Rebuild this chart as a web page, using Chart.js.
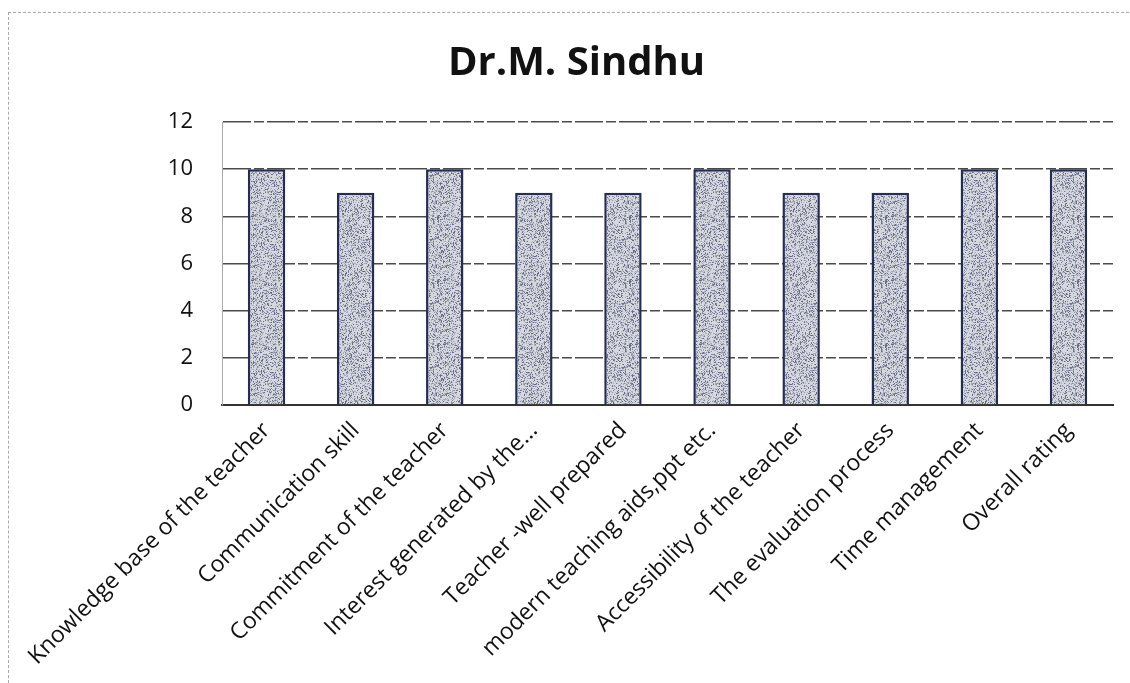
<!DOCTYPE html>
<html lang="en">
<head>
<meta charset="UTF-8">
<script src="https://cdn.jsdelivr.net/npm/chart.js"></script>
<title>Dr.M. Sindhu</title>
<style>
    * {
        margin: 0px;
        padding: 0px;
    }

    body {
        width: 1130px;
        height: 683px;
        background: #fff;
        overflow: hidden;
        position: relative;
    }

    .marco {
        position: absolute;
        left: 8px;
        top: 12px;
        width: 1140px;
        height: 690px;
        border-left: 1px dashed #aaa;
        border-top: 1px dashed #aaa;
    }

    .contenedor {
        position: absolute;
        left: 0;
        top: 0;
        width: 1130px;
        height: 683px;
    }
</style>
</head>
<body>
<div class="marco"></div>
<div class="contenedor">
    <canvas id="myChart" width="1130" height="683"></canvas>
</div>

<script>
    const categorias = [
        'Knowledge base of the teacher',
        'Communication skill',
        'Commitment of the teacher',
        'Interest generated by the...',
        'Teacher -well prepared',
        'modern teaching aids,ppt etc.',
        'Accessibility of the teacher',
        'The evaluation process',
        'Time management',
        'Overall rating'
    ];
    const puntajes = [10, 9, 10, 9, 9, 10, 9, 9, 10, 10];
    const marcasY = [0, 2, 4, 6, 8, 10, 12];

    // relleno punteado gris azulado de las barras
    function textura() {
        const c = document.createElement('canvas');
        c.width = 64;
        c.height = 64;
        const g = c.getContext('2d');
        g.fillStyle = '#d6d8e0';
        g.fillRect(0, 0, 64, 64);
        for (let y = 0; y < 64; y++) {
            for (let x = 0; x < 64; x++) {
                let h = Math.imul(x, 374761393) + Math.imul(y, 668265263);
                h = Math.imul(h ^ (h >>> 13), 1274126177);
                h = (h ^ (h >>> 16)) >>> 0;
                const v = h % 10;
                if (v < 4) {
                    g.fillStyle = v === 0 ? '#646a82' : (v === 1 ? '#828899' : '#a7abbb');
                    g.fillRect(x, y, 1, 1);
                }
            }
        }
        return g.createPattern(c, 'repeat');
    }

    const ctx = document.getElementById('myChart').getContext('2d');

    const myChart = new Chart(ctx, {
        type: 'bar',
        data: {
            labels: categorias,
            datasets: [{
                data: puntajes,
                backgroundColor: textura(),
                borderColor: '#262d52',
                borderWidth: 2.5,
                barPercentage: 0.42,
                categoryPercentage: 1
            }]
        },
        options: {
            responsive: false,
            animation: false,
            layout: {
                padding: { left: 40, right: 17, top: 0, bottom: 0 }
            },
            plugins: {
                legend: { display: false },
                tooltip: { enabled: false },
                title: {
                    display: true,
                    text: 'Dr.M. Sindhu',
                    color: '#111',
                    font: { family: 'Open Sans', size: 40, weight: 'bold' },
                    padding: { top: 40, bottom: 34 }
                }
            },
            scales: {
                x: {
                    grid: { display: false, drawTicks: false },
                    border: { display: true, color: '#333', width: 2 },
                    ticks: {
                        autoSkip: false,
                        minRotation: 45,
                        maxRotation: 45,
                        padding: 12,
                        color: '#111',
                        font: { family: 'Open Sans', size: 23 }
                    },
                    afterFit: (s) => { s.height = 278; }
                },
                y: {
                    min: 0,
                    max: 12,
                    afterBuildTicks: (s) => { s.ticks = marcasY.map(v => ({ value: v })); },
                    grid: {
                        color: '#4a4a4a',
                        lineWidth: 1.5,
                        drawTicks: false
                    },
                    // en v4 el dash del borde también marca las líneas de la grilla
                    border: { display: true, color: '#aaa', width: 1, dash: [28, 3, 10, 3] },
                    ticks: {
                        padding: 29,
                        color: '#111',
                        font: { family: 'Open Sans', size: 22 }
                    },
                    afterFit: (s) => { s.width = 182; }
                }
            }
        }
    });
</script>
</body>
</html>
